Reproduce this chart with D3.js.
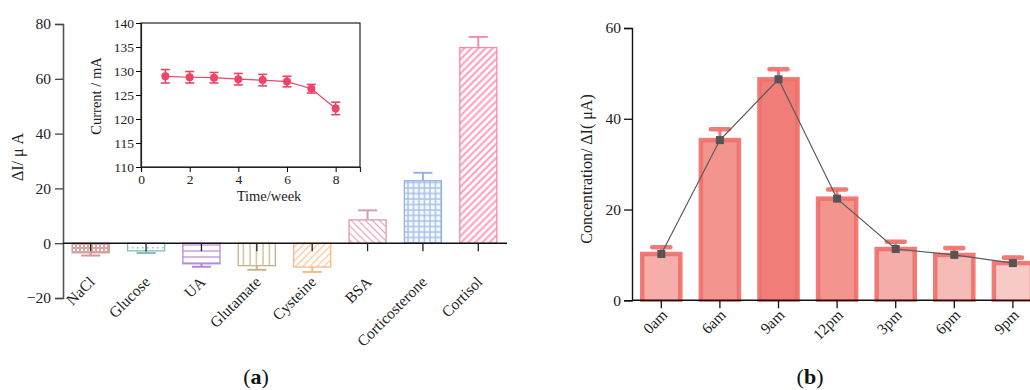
<!DOCTYPE html>
<html>
<head>
<meta charset="utf-8">
<script src="https://cdn.jsdelivr.net/npm/d3@7"></script>
<style>
  html, body { margin: 0; padding: 0; background: #fff; }
  svg { display: block; font-family: "Liberation Serif", "Times New Roman", serif; }
  svg text { font-family: "Liberation Serif", "Times New Roman", serif; }
</style>
</head>
<body>
<svg id="chart" width="1030" height="390"></svg>
<script>
// ---- Panel (a): selectivity of the sensor ----
const analytes = ["NaCl", "Glucose", "UA", "Glutamate", "Cysteine", "BSA", "Corticosterone", "Cortisol"];
const deltaI = [-3.5, -2.8, -7.5, -8.2, -8.7, 8.5, 22.8, 71.4];
const deltaIErr = [1.0, 0.8, 1.1, 1.5, 1.8, 3.5, 2.9, 3.9];
const yTicksA = [-20, 0, 20, 40, 60, 80];

// ---- Inset: stability over time ----
const weeks = [1, 2, 3, 4, 5, 6, 7, 8];
const currentMA = [128.9, 128.7, 128.6, 128.3, 128.1, 127.8, 126.3, 122.2];
const currentErr = [1.4, 1.2, 1.1, 1.2, 1.2, 1.1, 0.9, 1.3];
const insetXTicks = [0, 2, 4, 6, 8];
const insetYTicks = [110, 115, 120, 125, 130, 135, 140];

// ---- Panel (b): daily cortisol profile ----
const times = ["0am", "6am", "9am", "12pm", "3pm", "6pm", "9pm"];
const concentration = [10.2, 35.3, 48.7, 22.4, 11.3, 10.0, 8.2];
const concentrationErr = [1.5, 2.4, 2.2, 2.0, 1.6, 1.5, 1.2];
const yTicksB = [0, 20, 40, 60];

const svg = d3.select("#chart");
const defs = svg.append("defs");

// hatch / texture fills for the panel (a) bars
const styleA = [
  { stroke: "#d49a9a", pat: "checker", color: "#dba6a6" },
  { stroke: "#86baba", pat: "dots", color: "#8fc2c2" },
  { stroke: "#b486d4", pat: "hlines", color: "#c29ade" },
  { stroke: "#c4b488", pat: "vlines", color: "#cbbd94" },
  { stroke: "#f8ba84", pat: "diagUp", color: "#fbc89a" },
  { stroke: "#d99ab2", pat: "diagDown", color: "#e2aec2" },
  { stroke: "#93b3e2", pat: "grid", color: "#a6c1ea" },
  { stroke: "#f78aab", pat: "diagUpBold", color: "#f897b5" }
];

styleA.forEach((s, i) => {
  const id = "pat" + i;
  let p;
  if (s.pat === "checker") {
    p = defs.append("pattern").attr("id", id).attr("patternUnits", "userSpaceOnUse").attr("width", 4).attr("height", 4);
    p.append("rect").attr("width", 4).attr("height", 4).attr("fill", s.color);
    p.append("rect").attr("x", 1).attr("y", 1).attr("width", 2).attr("height", 2).attr("fill", "#fff");
  } else if (s.pat === "dots") {
    p = defs.append("pattern").attr("id", id).attr("patternUnits", "userSpaceOnUse").attr("width", 5).attr("height", 5);
    p.append("rect").attr("width", 5).attr("height", 5).attr("fill", "#fff");
    p.append("rect").attr("x", 2).attr("y", 2).attr("width", 1.5).attr("height", 1.5).attr("fill", s.color);
  } else if (s.pat === "hlines") {
    p = defs.append("pattern").attr("id", id).attr("patternUnits", "userSpaceOnUse").attr("width", 6).attr("height", 6);
    p.append("rect").attr("width", 6).attr("height", 6).attr("fill", "#fff");
    p.append("line").attr("x1", 0).attr("x2", 6).attr("y1", 5).attr("y2", 5).attr("stroke", s.color).attr("stroke-width", 1.4);
  } else if (s.pat === "vlines") {
    p = defs.append("pattern").attr("id", id).attr("patternUnits", "userSpaceOnUse").attr("width", 6.5).attr("height", 6);
    p.append("rect").attr("width", 6.5).attr("height", 6).attr("fill", "#fff");
    p.append("line").attr("y1", 0).attr("y2", 6).attr("x1", 3).attr("x2", 3).attr("stroke", s.color).attr("stroke-width", 1.4);
  } else if (s.pat === "grid") {
    p = defs.append("pattern").attr("id", id).attr("patternUnits", "userSpaceOnUse").attr("width", 5.5).attr("height", 5.5);
    p.append("rect").attr("width", 5.5).attr("height", 5.5).attr("fill", "#f4f7fc");
    p.append("line").attr("y1", 0).attr("y2", 5.5).attr("x1", 1).attr("x2", 1).attr("stroke", s.color).attr("stroke-width", 1.4);
    p.append("line").attr("x1", 0).attr("x2", 5.5).attr("y1", 1).attr("y2", 1).attr("stroke", s.color).attr("stroke-width", 1.4);
  } else {
    const up = s.pat !== "diagDown";
    const w = s.pat === "diagUpBold" ? 1.9 : 1.3;
    p = defs.append("pattern").attr("id", id).attr("patternUnits", "userSpaceOnUse")
      .attr("width", 5).attr("height", 5)
      .attr("patternTransform", up ? "rotate(45)" : "rotate(-45)");
    p.append("rect").attr("width", 5).attr("height", 5).attr("fill", "#fff");
    p.append("line").attr("y1", 0).attr("y2", 5).attr("x1", 2.5).attr("x2", 2.5).attr("stroke", s.color).attr("stroke-width", w);
  }
});

// drop d3's default sans-serif font on axis groups so the serif face is inherited
function serifAxis(g, size) {
  g.attr("font-family", null).attr("font-size", null);
  g.selectAll(".tick text").attr("font-size", size).attr("fill", "#222");
  return g;
}

// ================= Panel (a) =================
const xA = d3.scaleBand().domain(analytes).range([63, 506]).paddingInner(0.33).paddingOuter(0.165);
const yA = d3.scaleLinear().domain([-20, 80]).range([298, 24]);

const gA = svg.append("g");

// bars
gA.selectAll("rect.bar").data(analytes).join("rect")
  .attr("class", "bar")
  .attr("x", d => xA(d))
  .attr("width", xA.bandwidth())
  .attr("y", (d, i) => yA(Math.max(0, deltaI[i])))
  .attr("height", (d, i) => Math.abs(yA(deltaI[i]) - yA(0)))
  .attr("fill", (d, i) => `url(#pat${i})`)
  .attr("stroke", (d, i) => styleA[i].stroke)
  .attr("stroke-width", 1.3);

// error bars (one-sided, away from zero)
analytes.forEach((d, i) => {
  const cx = xA(d) + xA.bandwidth() / 2;
  const v = deltaI[i];
  const e = v >= 0 ? v + deltaIErr[i] : v - deltaIErr[i];
  gA.append("line").attr("x1", cx).attr("x2", cx).attr("y1", yA(v)).attr("y2", yA(e))
    .attr("stroke", styleA[i].stroke).attr("stroke-width", 2);
  gA.append("line").attr("x1", cx - 9.5).attr("x2", cx + 9.5).attr("y1", yA(e)).attr("y2", yA(e))
    .attr("stroke", styleA[i].stroke).attr("stroke-width", 2);
});

// y axis
const yAxisA = gA.append("g").attr("transform", "translate(63,0)")
  .call(d3.axisLeft(yA).tickValues(yTicksA).tickSize(8).tickPadding(4));
serifAxis(yAxisA, 15.5);
yAxisA.select(".domain").attr("stroke", "#555").attr("stroke-width", 1.6);
yAxisA.selectAll(".tick line").attr("stroke", "#444").attr("stroke-width", 1.3);

// x axis at zero
const xAxisA = gA.append("g").attr("transform", `translate(0,${yA(0)})`)
  .call(d3.axisBottom(xA).tickSize(8).tickFormat(""));
xAxisA.select(".domain").attr("stroke", "#111").attr("stroke-width", 1.4)
  .attr("d", `M63,0H507`);
xAxisA.selectAll(".tick line").attr("stroke", "#222").attr("stroke-width", 1.3);

// category labels
gA.selectAll("text.cat").data(analytes).join("text")
  .attr("class", "cat")
  .attr("transform", d => `translate(${xA(d) + xA.bandwidth() / 2 + 5},283) rotate(-45)`)
  .attr("text-anchor", "end")
  .attr("font-size", 15.5)
  .attr("fill", "#222")
  .text(d => d);

// y axis title
gA.append("text")
  .attr("transform", "translate(23,157) rotate(-90)")
  .attr("text-anchor", "middle")
  .attr("font-size", 16)
  .attr("fill", "#222")
  .text("ΔI/ μ A");

// ================= Inset =================
const xI = d3.scaleLinear().domain([0, 9]).range([141, 360]);
const yI = d3.scaleLinear().domain([110, 140]).range([167, 23]);
const gI = svg.append("g");

gI.append("rect").attr("x", 141).attr("y", 23).attr("width", 219).attr("height", 144)
  .attr("fill", "#fff").attr("stroke", "#222").attr("stroke-width", 1.2);

const xAxisI = gI.append("g").attr("transform", "translate(0,167)")
  .call(d3.axisBottom(xI).tickValues(insetXTicks).tickSize(5).tickPadding(2));
serifAxis(xAxisI, 13.5);
xAxisI.select(".domain").attr("stroke", "#222").attr("stroke-width", 1.2);

const yAxisI = gI.append("g").attr("transform", "translate(141,0)")
  .call(d3.axisLeft(yI).tickValues(insetYTicks).tickSize(5).tickPadding(2));
serifAxis(yAxisI, 13.5);
yAxisI.select(".domain").attr("stroke", "#222").attr("stroke-width", 1.2);

const pink = "#ee4466";
gI.append("path")
  .datum(weeks)
  .attr("fill", "none")
  .attr("stroke", pink)
  .attr("stroke-width", 1.2)
  .attr("d", d3.line().x(d => xI(d)).y((d, i) => yI(currentMA[i])));

weeks.forEach((w, i) => {
  const cx = xI(w);
  const hi = yI(currentMA[i] + currentErr[i]);
  const lo = yI(currentMA[i] - currentErr[i]);
  gI.append("line").attr("x1", cx).attr("x2", cx).attr("y1", hi).attr("y2", lo).attr("stroke", pink).attr("stroke-width", 1.6);
  [hi, lo].forEach(yy => gI.append("line").attr("x1", cx - 4.5).attr("x2", cx + 4.5).attr("y1", yy).attr("y2", yy)
    .attr("stroke", pink).attr("stroke-width", 1.6));
  gI.append("circle").attr("cx", cx).attr("cy", yI(currentMA[i])).attr("r", 4).attr("fill", pink);
});

gI.append("text").attr("x", 269).attr("y", 201).attr("text-anchor", "middle")
  .attr("font-size", 14.5).attr("fill", "#222").text("Time/week");
gI.append("text").attr("transform", "translate(101,96) rotate(-90)").attr("text-anchor", "middle")
  .attr("font-size", 14.5).attr("fill", "#222").text("Current / mA");

// ================= Panel (b) =================
const xB = d3.scaleBand().domain(times).range([632, 632 + 7 * 58.6]).paddingInner(0.35).paddingOuter(0.175);
const yB = d3.scaleLinear().domain([0, 60]).range([300.3, 28]);
const barFill = ["#f5aea9", "#f3948e", "#f07d77", "#f3948e", "#f4ada8", "#f6bbb7", "#f8cac7"];
const edge = "rgba(240,112,106,0.92)";

const gB = svg.append("g");
gB.append("clipPath").attr("id", "clipB").append("rect")
  .attr("x", 600).attr("y", 0).attr("width", 430).attr("height", 302);

const barsB = gB.append("g").attr("clip-path", "url(#clipB)");
barsB.selectAll("rect").data(times).join("rect")
  .attr("x", d => xB(d))
  .attr("width", xB.bandwidth())
  .attr("y", (d, i) => yB(concentration[i]))
  .attr("height", (d, i) => yB(0) - yB(concentration[i]) + 3)
  .attr("fill", (d, i) => barFill[i])
  .attr("stroke", edge)
  .attr("stroke-width", 4.5);

// error bars with rounded caps
times.forEach((t, i) => {
  const cx = xB(t) + xB.bandwidth() / 2;
  const top = yB(concentration[i] + concentrationErr[i]);
  barsB.append("line").attr("x1", cx).attr("x2", cx).attr("y1", yB(concentration[i])).attr("y2", top)
    .attr("stroke", edge).attr("stroke-width", 3);
  barsB.append("line").attr("x1", cx - 9).attr("x2", cx + 9).attr("y1", top).attr("y2", top)
    .attr("stroke", edge).attr("stroke-width", 4.6).attr("stroke-linecap", "round");
});

// trend line with square markers
const ptX = d => xB(d) + xB.bandwidth() / 2;
barsB.append("path").datum(times)
  .attr("fill", "none").attr("stroke", "#5a5a5a").attr("stroke-width", 1.2)
  .attr("d", d3.line().x(d => ptX(d)).y((d, i) => yB(concentration[i])));
barsB.selectAll("rect.mk").data(times).join("rect")
  .attr("class", "mk")
  .attr("x", d => ptX(d) - 4)
  .attr("y", (d, i) => yB(concentration[i]) - 4)
  .attr("width", 8).attr("height", 8)
  .attr("fill", "#555");

// axes
const yAxisB = gB.append("g").attr("transform", "translate(632,0)")
  .call(d3.axisLeft(yB).tickValues(yTicksB).tickSize(8).tickPadding(3));
serifAxis(yAxisB, 15.5);
yAxisB.select(".domain").attr("stroke", "#111").attr("stroke-width", 1.4);
yAxisB.selectAll(".tick line").attr("stroke", "#111").attr("stroke-width", 1.3);

const xAxisB = gB.append("g").attr("transform", `translate(0,${yB(0)})`)
  .call(d3.axisBottom(xB).tickSize(8).tickFormat(""));
xAxisB.select(".domain").attr("stroke", "#111").attr("stroke-width", 1.4).attr("d", "M632,0H1030");
xAxisB.selectAll(".tick line").attr("stroke", "#111").attr("stroke-width", 1.3);

gB.selectAll("text.time").data(times).join("text")
  .attr("class", "time")
  .attr("transform", d => `translate(${ptX(d) + 7},316) rotate(-45)`)
  .attr("text-anchor", "end")
  .attr("font-size", 15.5)
  .attr("fill", "#222")
  .text(d => d);

gB.append("text")
  .attr("transform", "translate(592,169) rotate(-90)")
  .attr("text-anchor", "middle")
  .attr("font-size", 16)
  .attr("fill", "#222")
  .text("Concentration/ ΔI( μA)");

// panel letters
[["a", 256], ["b", 810]].forEach(([letter, x]) => {
  const t = svg.append("text").attr("x", x).attr("y", 384).attr("text-anchor", "middle")
    .attr("font-size", 22).attr("fill", "#111");
  t.append("tspan").text("(");
  t.append("tspan").attr("font-weight", "bold").text(letter);
  t.append("tspan").text(")");
});
</script>
</body>
</html>
